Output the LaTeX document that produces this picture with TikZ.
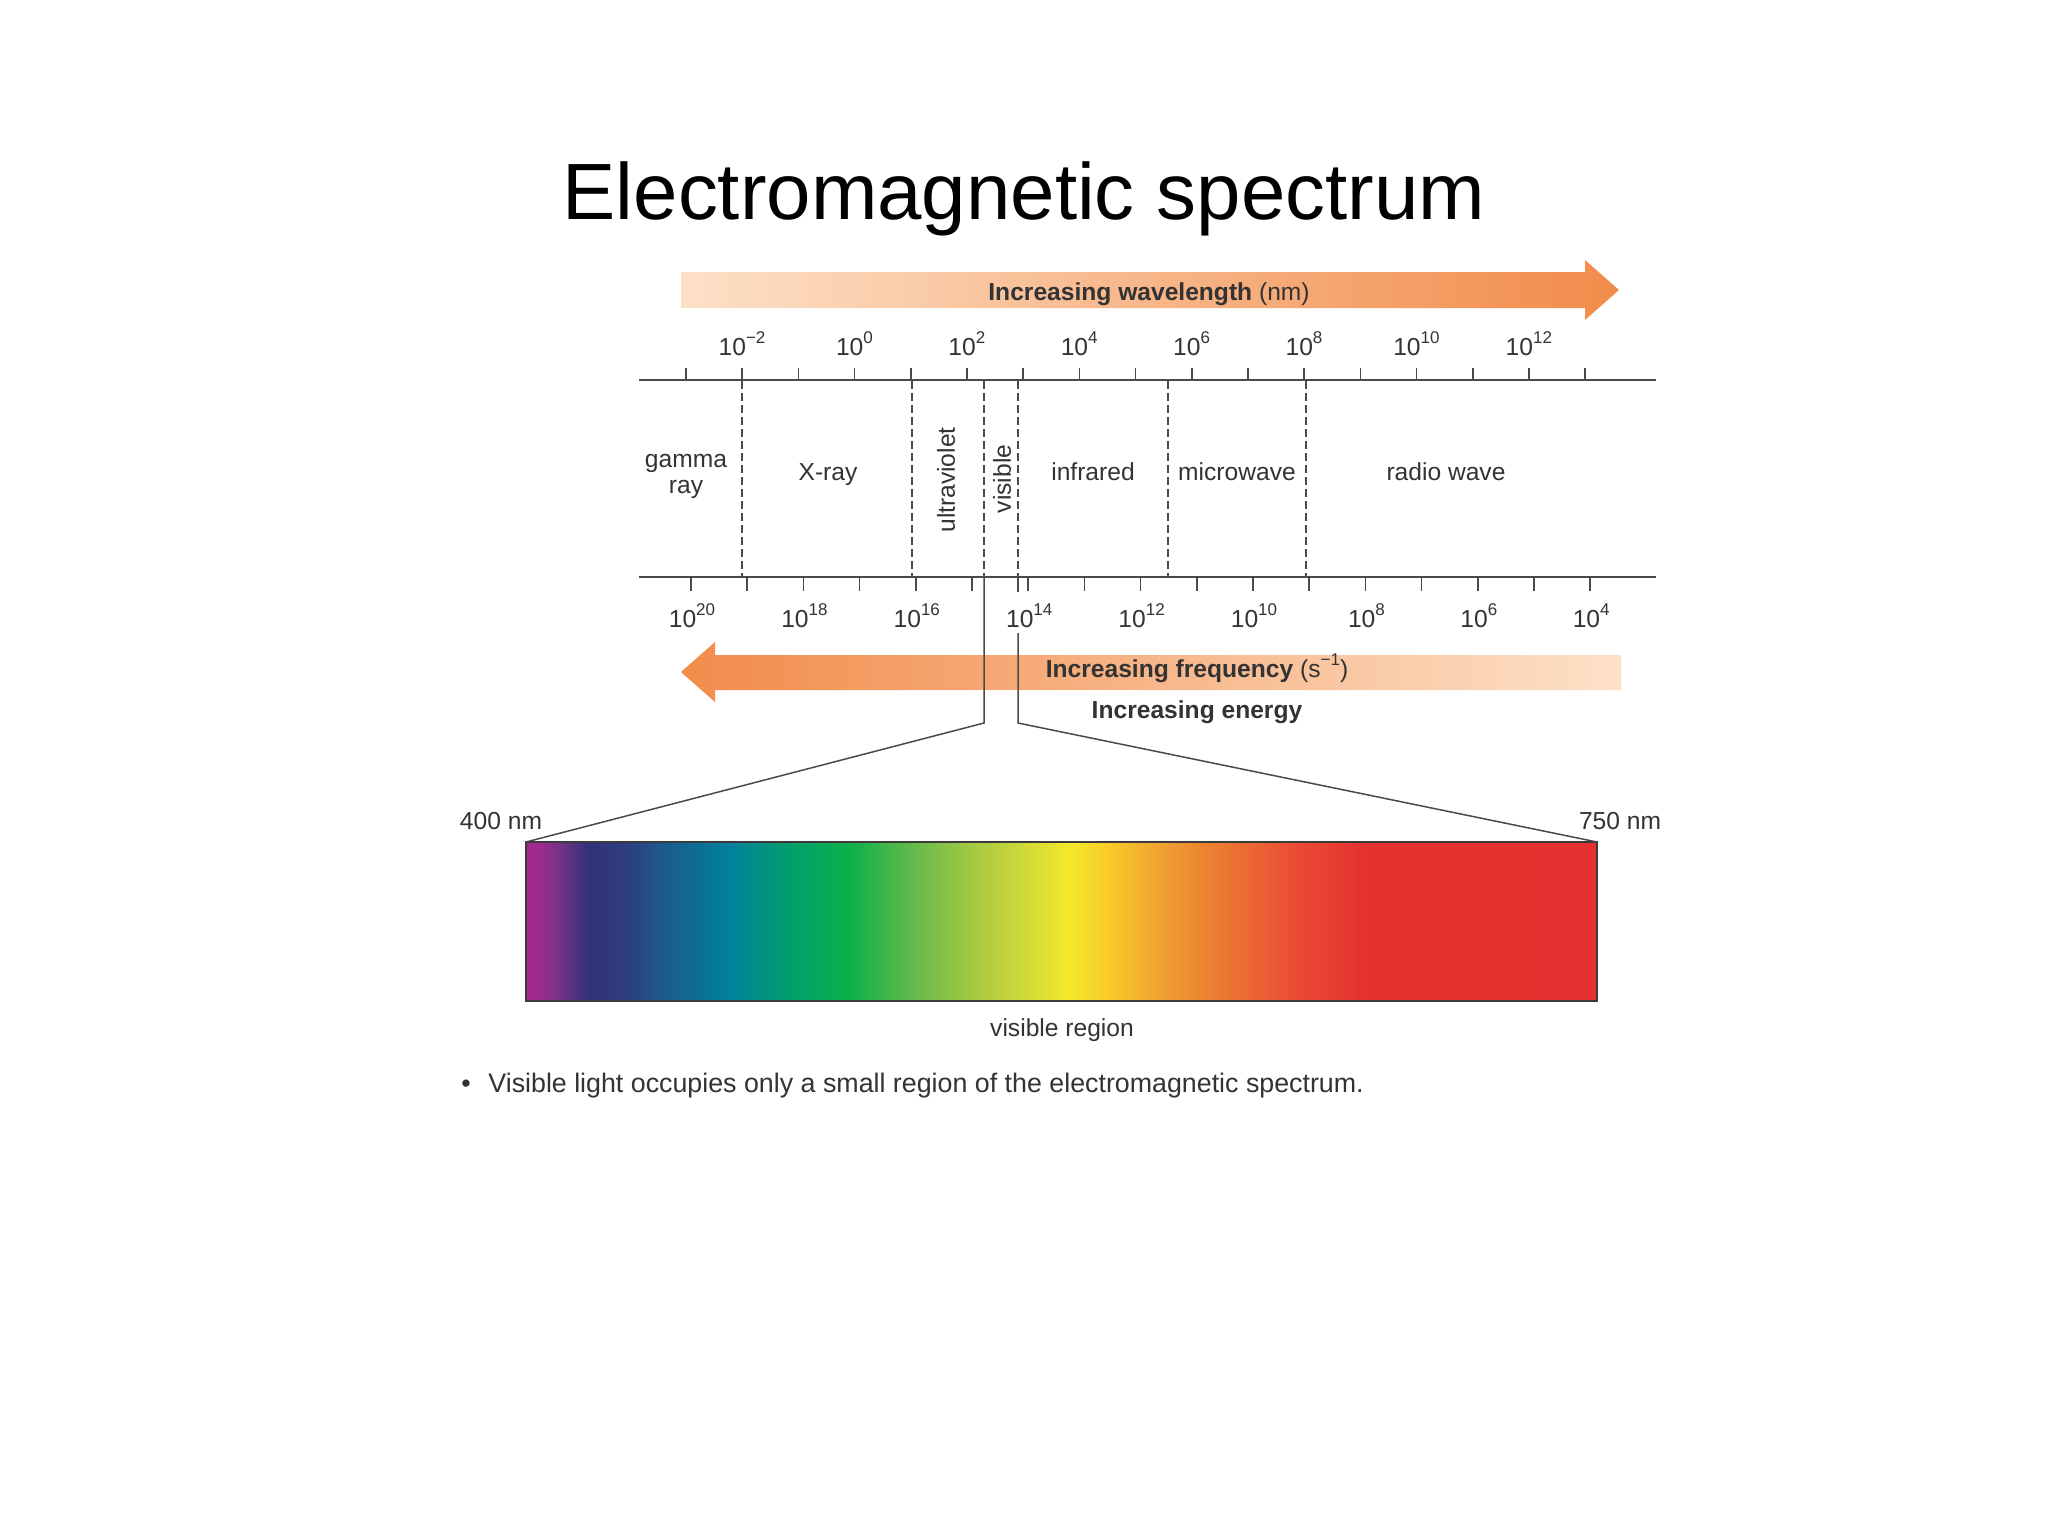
\documentclass[tikz,border=0pt]{standalone}
\usepackage{fontspec}
\setmainfont{Liberation Sans}
\definecolor{txt}{HTML}{333333}
\definecolor{ln}{HTML}{4A4A4A}
\definecolor{arrL}{HTML}{FCE1C8}
\definecolor{arrM}{HTML}{F8BD92}
\definecolor{arrR}{HTML}{F28B4A}
\definecolor{sA}{HTML}{A0288F}
\definecolor{sB}{HTML}{7B3388}
\definecolor{sC}{HTML}{33307A}
\definecolor{sD}{HTML}{2E3E7E}
\definecolor{sE}{HTML}{1C5A8A}
\definecolor{sF}{HTML}{00809E}
\definecolor{sG}{HTML}{009F6C}
\definecolor{sH}{HTML}{0DB04B}
\definecolor{sI}{HTML}{6DBB4A}
\definecolor{sJ}{HTML}{B0CC42}
\definecolor{sK}{HTML}{F3E92B}
\definecolor{sL}{HTML}{F8CC2A}
\definecolor{sM}{HTML}{EE9A31}
\definecolor{sN}{HTML}{EB6E32}
\definecolor{sO}{HTML}{EA4B36}
\definecolor{sP}{HTML}{E5322E}
\definecolor{sQ}{HTML}{E53230}
\pgfdeclarehorizontalshading{visspec}{100bp}{color(0bp)=(sA); color(25bp)=(sA); color(25.6bp)=(sA);
 color(26.4bp)=(sB); color(27.9bp)=(sC); color(29.7bp)=(sD); color(31.4bp)=(sE);
 color(34.4bp)=(sF); color(37.35bp)=(sG); color(40.1bp)=(sH); color(43.4bp)=(sI);
 color(46.4bp)=(sJ); color(50.35bp)=(sK); color(52.1bp)=(sL); color(55.1bp)=(sM);
 color(58.25bp)=(sN); color(60.95bp)=(sO); color(64.1bp)=(sP); color(75bp)=(sQ); color(100bp)=(sQ)}
\newcommand{\pw}[1]{10\raisebox{0.45em}{\fontsize{8.5}{9}\selectfont #1}}
\begin{document}
\begin{tikzpicture}[x=0.5pt,y=-0.5pt,
  lbl/.style={font=\fontsize{12.3}{14}\selectfont, text=txt, inner sep=0pt, anchor=base},
  blbl/.style={font=\fontsize{12.3}{14}\selectfont\bfseries, text=txt, inner sep=0pt, anchor=base},
  axisline/.style={draw=ln, line width=1pt},
  tickline/.style={draw=ln, line width=0.8pt},
  bound/.style={draw=ln, line width=0.7pt, dash pattern=on 4pt off 2pt},
  conn/.style={draw=ln, line width=0.75pt}]
\useasboundingbox[fill=white] (0,0) rectangle (2048,1536);

% title
\node[anchor=base, inner sep=0pt, font=\fontsize{39.9}{44}\selectfont] (title) at (1024,219) {Electromagnetic spectrum};

% wavelength arrow
\shade[left color=arrL, middle color=arrM, right color=arrR]
  (681,272) -- (1585,272) -- (1585,260) -- (1619,290) -- (1585,320) -- (1585,308) -- (681,308) -- cycle;
\node[blbl] (wl) at (1149,300) {Increasing wavelength \mdseries(nm)};

% frequency arrow
\shade[left color=arrR, middle color=arrM, right color=arrL]
  (1621,655) -- (715,655) -- (715,642) -- (681,672) -- (715,702) -- (715,690) -- (1621,690) -- cycle;
\node[blbl] (fr) at (1197,677) {Increasing frequency \mdseries(s\raisebox{0.45em}{\fontsize{8.5}{9}\selectfont −1})};
\node[blbl] (en) at (1197,718) {Increasing energy};

% axes
\coordinate (topL) at (639,380); \coordinate (topR) at (1656,380);
\coordinate (botL) at (639,577); \coordinate (botR) at (1656,577);
\draw[axisline] (topL) -- (topR);
\draw[axisline] (botL) -- (botR);
\foreach \k in {0,...,16} {
  \draw[tickline] ({686+56.2*\k},368) -- ({686+56.2*\k},380);
  \draw[tickline] ({691+56.2*\k},577) -- ({691+56.2*\k},591);
}

% wavelength labels
\foreach \e [count=\j from 0] in {−2,0,2,4,6,8,10,12}
  \node[lbl] (w\j) at ({742+112.4*\j},355) {\pw{\e}};
% frequency labels
\foreach \e [count=\j from 0] in {20,18,16,14,12,10,8,6,4}
  \node[lbl] (f\j) at ({692+112.4*\j},627) {\pw{\e}};

% region boundaries
\foreach \x in {742,912,984,1018,1168,1306}
  \draw[bound] (\x,381) -- (\x,577);

% region labels
\node[lbl, align=center, anchor=center] (gamma) at (686,476) {gamma\\[-1pt]ray};
\node[lbl] (xray) at (828,480) {X-ray};
\node[lbl, anchor=center, rotate=90] (uv) at (946,480) {ultraviolet};
\node[lbl, anchor=center, rotate=90] (vis) at (1002,479) {visible};
\node[lbl] (ir) at (1093,480) {infrared};
\node[lbl] (mw) at (1237,480) {microwave};
\node[lbl] (rw) at (1446,480) {radio wave};

% visible spectrum box
\coordinate (sTL) at (526,842); \coordinate (sBR) at (1597,1001);
\coordinate (sTR) at (1597,842);
\shade[shading=visspec] (sTL) rectangle (sBR);
\draw[draw=ln!80!black, line width=1pt] (sTL) rectangle (sBR);

% zoom connectors
\coordinate (vL0) at (984,577); \coordinate (vL1) at (984,723);
\coordinate (vR0) at (1018,577); \coordinate (vR1) at (1018,592);
\coordinate (vR2) at (1018,633); \coordinate (vR3) at (1018,723);
\draw[conn] (vL0) -- (vL1) -- (sTL);
\draw[conn] (vR0) -- (vR1);
\draw[conn] (vR2) -- (vR3) -- (sTR);

\node[lbl] (nm400) at (501,829) {400 nm};
\node[lbl] (nm750) at (1620,829) {750 nm};
\node[lbl] (vreg) at (1062,1036) {visible region};
\node[lbl, anchor=base, font=\fontsize{13.4}{15}\selectfont] (dot) at (466,1092) {•};
\node[lbl, anchor=base west, font=\fontsize{13.4}{15}\selectfont] (bul) at (488,1092) {Visible light occupies only a small region of the electromagnetic spectrum.};
\end{tikzpicture}
\end{document}
